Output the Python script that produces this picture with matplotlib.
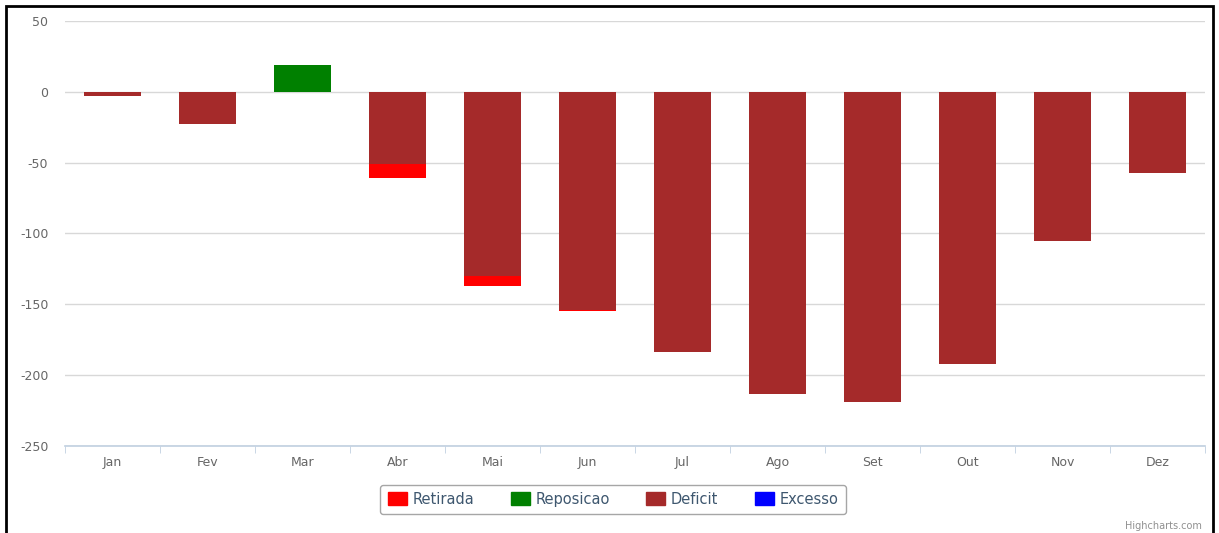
import matplotlib.pyplot as plt
from matplotlib.patches import Rectangle, Patch
import numpy as np

# DATA
months = ['Jan', 'Fev', 'Mar', 'Abr', 'Mai', 'Jun', 'Jul', 'Ago', 'Set', 'Out', 'Nov', 'Dez']
retirada = [0, 0, 0, -10, -7, -1, 0, 0, 0, 0, 0, 0]
reposicao = [0, 0, 19, 0, 0, 0, 0, 0, 0, 0, 0, 0]
deficit = [-3, -23, 0, -51, -130, -154, -184, -213, -219, -192, -105, -57]
excesso = [0, 0, 0, 0, 0, 0, 0, 0, 0, 0, 0, 0]
y_ticks = [50, 0, -50, -100, -150, -200, -250]

colors = {'Retirada': '#FF0000', 'Reposicao': '#008000',
          'Deficit': '#A52A2A', 'Excesso': '#0000FF'}

plt.rcParams['font.family'] = ['DejaVu Sans']

fig = plt.figure(figsize=(12.19, 5.33), dpi=100)
ax = fig.add_axes([65 / 1219, 1 - 446 / 533, 1140 / 1219, 425 / 533])

x = np.arange(len(months))
w = 0.6

# STACKED BARS
ax.bar(x, deficit, w, color=colors['Deficit'], zorder=3)
ax.bar(x, retirada, w, bottom=deficit, color=colors['Retirada'], zorder=3)
ax.bar(x, reposicao, w, color=colors['Reposicao'], zorder=3)
ax.bar(x, excesso, w, color=colors['Excesso'], zorder=3)

# AXES
ax.set_xlim(-0.5, len(months) - 0.5)
ax.set_ylim(-250, 50)
ax.set_yticks(y_ticks)
ax.set_yticklabels([str(v) for v in y_ticks])
ax.yaxis.grid(True, color='#D8D8D8', linewidth=1, zorder=0)
ax.tick_params(axis='y', length=0, pad=12, labelsize=9, labelcolor='#666666')

ax.set_xticks(x)
ax.set_xticklabels(months)
ax.set_xticks(np.arange(len(months) + 1) - 0.5, minor=True)
ax.tick_params(axis='x', which='major', length=0, pad=7, labelsize=9, labelcolor='#666666')
ax.tick_params(axis='x', which='minor', length=5, color='#C0D0E0', direction='out')

for s in ['top', 'right', 'left']:
    ax.spines[s].set_visible(False)
ax.spines['bottom'].set_color('#C0D0E0')
ax.spines['bottom'].set_linewidth(1.2)

# LEGEND
handles = [Patch(facecolor=c, edgecolor=c, label=n) for n, c in colors.items()]
leg = fig.legend(handles=handles, loc='center', bbox_to_anchor=(0.503, 0.063),
                 ncol=4, frameon=True, fancybox=True, edgecolor='#909090',
                 fontsize=10.5, handlelength=1.3, handleheight=1.0,
                 handletextpad=0.4, columnspacing=2.5, borderpad=0.5)
leg.get_frame().set_linewidth(1)
for t in leg.get_texts():
    t.set_color('#3E576F')

# CREDIT
fig.text(1202 / 1219, 1 - 526 / 533, 'Highcharts.com', ha='right', va='center',
         fontsize=7, color='#909090')

# OUTER FRAME
fig.patches.append(Rectangle((6 / 1219, -0.05), 1207 / 1219, 1 - 6 / 533 + 0.05,
                             transform=fig.transFigure, fill=False,
                             edgecolor='black', linewidth=2))

fig.savefig('out.png', dpi=100)
